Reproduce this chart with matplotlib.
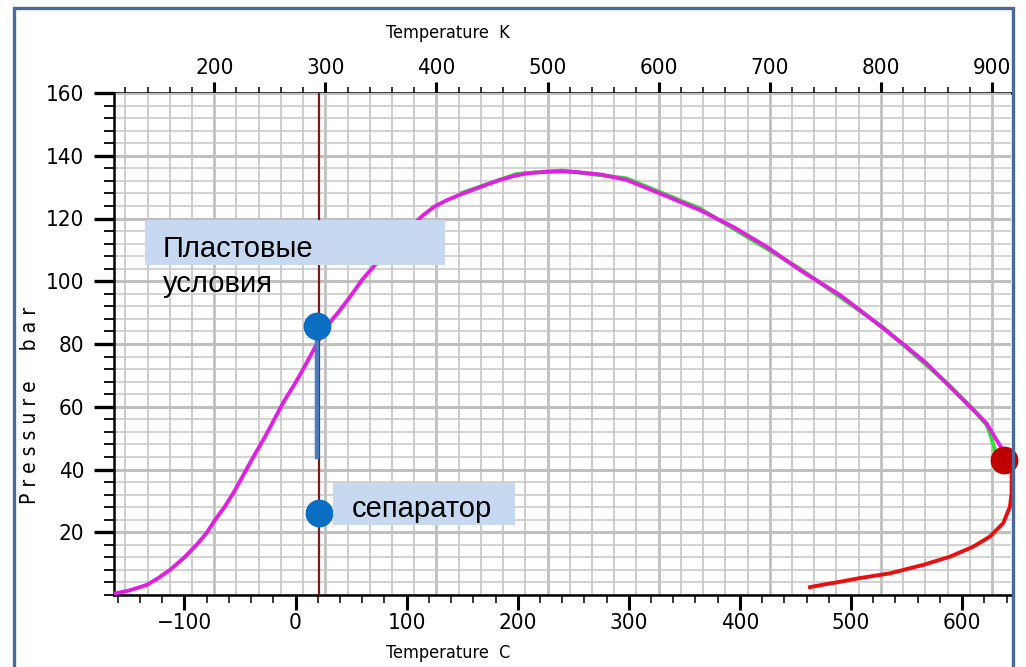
import matplotlib.pyplot as plt
from matplotlib.patches import Rectangle
from matplotlib.ticker import MultipleLocator

# Dew-point branch (magenta), temperature in C, pressure in bar
dew_t = [-162.5, -150, -134, -124, -113, -100, -89, -80, -72.5, -64, -56, -47,
         -38, -27.5, -17, -10, -2, 4, 10, 17, 23.6, 32, 40, 49, 60, 73, 84, 94,
         105, 115, 125, 136, 148, 160, 172, 184, 196, 208, 226, 240, 253, 275,
         298, 328, 364, 394, 424, 454, 490, 508, 529, 550, 568, 589, 610, 622,
         631, 635.6]
dew_p = [0.5, 1.4, 3.2, 5.3, 8, 12, 16, 19.8, 23.9, 28, 32.5, 38.2,
         44, 50.4, 57.4, 62, 66.5, 70.2, 74, 78.6, 83, 87.3, 90.8, 95, 100.5,
         105.8, 110.2, 114.2, 117.8, 121.1, 123.8, 125.8, 127.6, 129.2, 130.8,
         132.3, 133.5, 134.4, 134.9, 135, 134.8, 134, 132.3, 128, 122.7, 117.3,
         111, 103.6, 95.6, 90.8, 85, 79.1, 73.8, 66.4, 59, 54.7, 49.4, 46.8]

# Second calculated dew branch (green), mostly hidden under the magenta one
dew2_t = [150, 199, 240, 298, 364, 454, 529, 589, 610, 622, 625, 629.5, 633, 638]
dew2_p = [128.2, 134.2, 135.3, 132.8, 123.2, 104, 85.3, 66.7, 59.2, 54.2, 51.5,
          46.2, 44.5, 43]

# Lower branch (red)
low_t = [463, 475, 490, 508, 535, 565, 589, 610, 625, 637, 643, 644.5, 644.6, 638]
low_p = [2.5, 3.3, 4.2, 5.4, 6.9, 9.6, 12.2, 15.4, 18.6, 22.9, 28.1, 32.4,
         39.8, 43]

# Critical point and process conditions
crit_t, crit_p = 638, 43
res_t, res_p = 19.5, 85.7
sep_t, sep_p = 21, 26.1
res_line_p = [44, 85]
sep_line_t = 21.4

k_major = [200, 300, 400, 500, 600, 700, 800, 900]
c_major = [-100, 0, 100, 200, 300, 400, 500, 600]
p_major = [20, 40, 60, 80, 100, 120, 140, 160]

arial = ['Liberation Sans', 'DejaVu Sans']
tick_font = dict(family='DejaVu Sans', stretch='condensed')

fig = plt.figure(figsize=(10.26, 6.67), dpi=100)
ax = fig.add_axes([114 / 1026, 1 - 595 / 667, 897 / 1026, 502 / 667])
ax.set_xlim(-163.4, 644.0)
ax.set_ylim(0, 160)

# grid: horizontal every 4 bar, vertical every 20 K
ax.yaxis.set_major_locator(MultipleLocator(20))
ax.yaxis.set_minor_locator(MultipleLocator(4))
ax.grid(axis='y', which='major', color='#c0c0c0', lw=2.2, zorder=0)
ax.grid(axis='y', which='minor', color='#c8c8c8', lw=1.1, zorder=0)
for k in range(120, 921, 20):
    ax.axvline(k - 273.15, color='#c0c0c0', lw=2.0 if k % 100 == 0 else 1.1,
               zorder=0)

ax.set_xticks(c_major)
ax.xaxis.set_minor_locator(MultipleLocator(20))
ax.set_yticks(p_major)

for side in ['top', 'right']:
    ax.spines[side].set_visible(False)
for side in ['left', 'bottom']:
    ax.spines[side].set_linewidth(1.8)

ax.tick_params(axis='x', which='major', direction='out', length=10.8, width=2.2,
               pad=2, labelsize=16)
ax.tick_params(axis='x', which='minor', direction='out', length=5.5, width=1.1)
ax.tick_params(axis='y', which='major', direction='out', length=14.4, width=2.4,
               pad=7, labelsize=16)
ax.tick_params(axis='y', which='minor', direction='out', length=7.2, width=1.3)
for lab in ax.get_xticklabels() + ax.get_yticklabels():
    lab.set(**tick_font)

secax = ax.secondary_xaxis('top', functions=(lambda c: c + 273.15,
                                             lambda k: k - 273.15))
secax.set_xticks(k_major)
secax.xaxis.set_minor_locator(MultipleLocator(20))
secax.spines['top'].set_linewidth(1.8)
secax.tick_params(which='major', direction='out', length=8, width=2.2, pad=3,
                  labelsize=16)
secax.tick_params(which='minor', direction='out', length=4.5, width=1.1)
for lab in secax.get_xticklabels():
    lab.set(**tick_font)

# phase envelope
ax.plot(dew2_t, dew2_p, color='#33dd33', lw=2.8, zorder=3)
ax.plot(dew_t, dew_p, color='#e020e0', lw=2.8, zorder=4)
ax.plot(low_t, low_p, color='#e81010', lw=2.8, zorder=4, clip_on=False)

# separator temperature line and reservoir pressure drop
ax.axvline(sep_line_t, color='#7a1a1a', lw=1.6, zorder=5)
ax.plot([res_t, res_t], res_line_p, color='#4a7cc0', lw=3.2, zorder=6)
ax.plot(res_t, res_p, 'o', color='#0a6fc2', ms=19, zorder=7, clip_on=False)
ax.plot(sep_t, sep_p, 'o', color='#0a6fc2', ms=19, zorder=7, clip_on=False)
ax.plot(crit_t, crit_p, 'o', color='#c00000', ms=19, zorder=7, clip_on=False)

# axis titles
fig.text(448 / 1026, 1 - 33 / 667, 'Temperature  K', ha='center', va='center',
         fontsize=13, **tick_font)
fig.text(448 / 1026, 1 - 653 / 667, 'Temperature  C', ha='center', va='center',
         fontsize=13, **tick_font)
fig.text(30 / 1026, 1 - 405 / 667, 'P r e s s u r e     b a r', rotation=90,
         ha='center', va='center', fontsize=15, **tick_font)

# annotation boxes
fig.patches.append(Rectangle((145 / 1026, 1 - 265 / 667), 300 / 1026, 45 / 667,
                             transform=fig.transFigure, facecolor='#c6d9f0',
                             edgecolor='none', zorder=10))
fig.patches.append(Rectangle((333 / 1026, 1 - 525 / 667), 182 / 1026, 42 / 667,
                             transform=fig.transFigure, facecolor='#c6d9f0',
                             edgecolor='none', zorder=10))
fig.text(163 / 1026, 1 - 257 / 667, 'Пластовые', va='baseline', fontsize=21,
         family=arial, zorder=11)
fig.text(163 / 1026, 1 - 292 / 667, 'условия', va='baseline', fontsize=21,
         family=arial, zorder=11)
fig.text(352 / 1026, 1 - 517 / 667, 'сепаратор', va='baseline', fontsize=21,
         family=arial, zorder=11)

# outer frame
fig.patches.append(Rectangle((14 / 1026, -0.01), 999 / 1026, 1 - 8 / 667 + 0.01,
                             transform=fig.transFigure, facecolor='none',
                             edgecolor='#4a6a9c', lw=2.4, zorder=12))

plt.savefig('out.png', dpi=100)
